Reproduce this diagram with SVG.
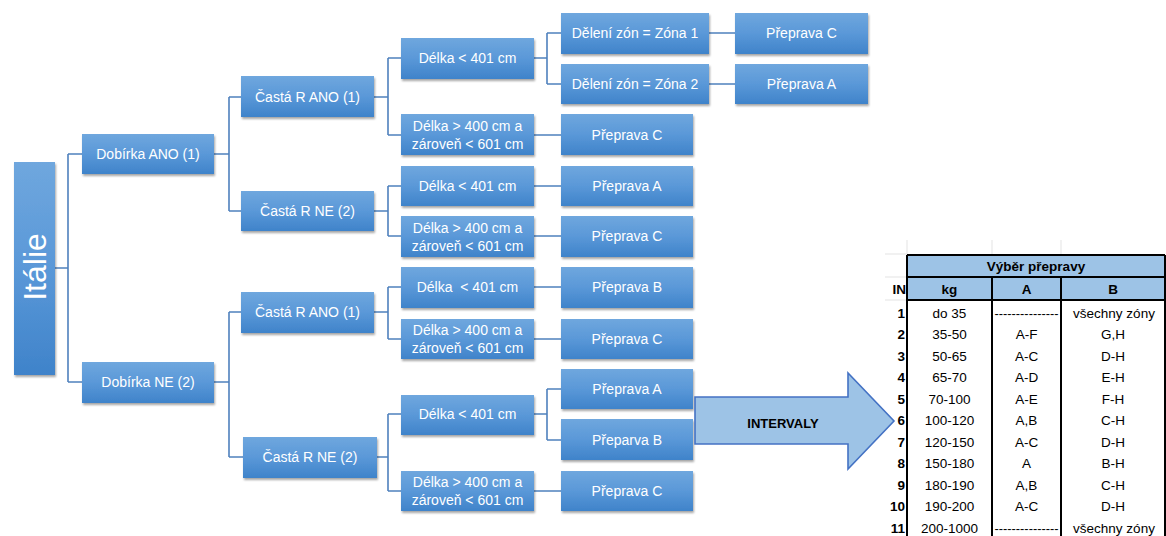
<svg xmlns="http://www.w3.org/2000/svg" width="1166" height="536" viewBox="0 0 1166 536">
<defs>
<linearGradient id="g" x1="0" y1="0" x2="0" y2="1">
<stop offset="0" stop-color="#6FA7DE"/>
<stop offset="0.5" stop-color="#5A98D8"/>
<stop offset="1" stop-color="#3F83CA"/>
</linearGradient>
<filter id="sh" x="-10%" y="-10%" width="125%" height="140%">
<feDropShadow dx="1" dy="2" stdDeviation="1.3" flood-color="#000" flood-opacity="0.35"/>
</filter>
</defs>
<style>
.b{fill:url(#g);filter:url(#sh)}
.t{font-family:"Liberation Sans",Arial,sans-serif;font-size:14px;fill:#fff;text-anchor:middle;dominant-baseline:central}
.c{fill:none;stroke:#4F81BD;stroke-width:1.6}
.tt{font-family:"Liberation Sans",Arial,sans-serif;font-size:13.5px;fill:#000;text-anchor:middle;dominant-baseline:central}
.tb{font-weight:bold}
.n{font-family:"Liberation Sans",Arial,sans-serif;font-size:13.5px;font-weight:bold;fill:#000;text-anchor:end;dominant-baseline:central}
.bk{stroke:#000;stroke-width:2;fill:none}
.gr{stroke:#E3E3E3;stroke-width:1}
</style>
<rect width="1166" height="536" fill="#fff"/>

<g id="connectors">
<path class="c" d="M55,268H68M68,154V382M68,154H82M68,382H82"/>
<path class="c" d="M214,154H229M229,97V211M229,97H241M229,211H241"/>
<path class="c" d="M214,382H229M229,312V457M229,312H241M229,457H243"/>
<path class="c" d="M374,97H388M388,58V135M388,58H401M388,135H401"/>
<path class="c" d="M374,211H388M388,186V236M388,186H401M388,236H401"/>
<path class="c" d="M374,312H388M388,287V339M388,287H401M388,339H401"/>
<path class="c" d="M377,457H388M388,414V491M388,414H401M388,491H401"/>
<path class="c" d="M534,58H547M547,33V84M547,33H561M547,84H561"/>
<path class="c" d="M709,33H735M709,84H735"/>
<path class="c" d="M534,135H561M534,186H561M534,236H561M534,287H561M534,339H561M534,491H561"/>
<path class="c" d="M534,414H547M547,389V440M547,389H561M547,440H561"/>
</g>

<g id="italie"><rect class="b" x="14" y="162" width="41" height="213"/><text class="t" transform="translate(35,267) rotate(-90)" style="font-size:32px">Itálie</text></g>
<g id="dob_ano"><rect class="b" x="82" y="134" width="132" height="40"/><text class="t" x="148" y="154">Dobírka ANO (1)</text></g>
<g id="dob_ne"><rect class="b" x="82" y="362" width="132" height="41"/><text class="t" x="148" y="382">Dobírka NE (2)</text></g>
<g id="casta_ano1"><rect class="b" x="241" y="76" width="133" height="41"/><text class="t" x="307.5" y="97">Častá R ANO (1)</text></g>
<g id="casta_ne1"><rect class="b" x="241" y="191" width="133" height="40"/><text class="t" x="307.5" y="211">Častá R NE (2)</text></g>
<g id="casta_ano2"><rect class="b" x="241" y="292" width="133" height="41"/><text class="t" x="307.5" y="312">Častá R ANO (1)</text></g>
<g id="casta_ne2"><rect class="b" x="243" y="437" width="134" height="41"/><text class="t" x="310" y="457">Častá R NE (2)</text></g>

<g id="d1"><rect class="b" x="401" y="38" width="133" height="41"/><text class="t" x="467.5" y="58">Délka &lt; 401 cm</text></g>
<g id="d2"><rect class="b" x="401" y="114" width="133" height="41"/><text class="t" x="467.5" y="126">Délka &gt; 400 cm a</text><text class="t" x="467.5" y="144">zároveň &lt; 601 cm</text></g>
<g id="z1"><rect class="b" x="561" y="13" width="148" height="41"/><text class="t" x="635" y="33">Dělení zón = Zóna 1</text></g>
<g id="z2"><rect class="b" x="561" y="64" width="148" height="40"/><text class="t" x="635" y="84">Dělení zón = Zóna 2</text></g>
<g id="p1"><rect class="b" x="735" y="13" width="133" height="41"/><text class="t" x="801.5" y="33">Přeprava C</text></g>
<g id="p2"><rect class="b" x="735" y="64" width="133" height="40"/><text class="t" x="801.5" y="84">Přeprava A</text></g>
<g id="p3"><rect class="b" x="561" y="114" width="132" height="41"/><text class="t" x="627" y="135">Přeprava C</text></g>
<g id="d3"><rect class="b" x="401" y="166" width="133" height="40"/><text class="t" x="467.5" y="186">Délka &lt; 401 cm</text></g>
<g id="p4"><rect class="b" x="561" y="166" width="132" height="40"/><text class="t" x="627" y="186">Přeprava A</text></g>
<g id="d4"><rect class="b" x="401" y="216" width="133" height="41"/><text class="t" x="467.5" y="228">Délka &gt; 400 cm a</text><text class="t" x="467.5" y="246">zároveň &lt; 601 cm</text></g>
<g id="p5"><rect class="b" x="561" y="216" width="132" height="41"/><text class="t" x="627" y="236">Přeprava C</text></g>
<g id="d5"><rect class="b" x="401" y="267" width="133" height="41"/><text class="t" x="467.5" y="287" xml:space="preserve">Délka  &lt; 401 cm</text></g>
<g id="p6"><rect class="b" x="561" y="267" width="132" height="41"/><text class="t" x="627" y="287">Přeprava B</text></g>
<g id="d6"><rect class="b" x="401" y="319" width="133" height="40"/><text class="t" x="467.5" y="330">Délka &gt; 400 cm a</text><text class="t" x="467.5" y="348">zároveň &lt; 601 cm</text></g>
<g id="p7"><rect class="b" x="561" y="319" width="132" height="40"/><text class="t" x="627" y="339">Přeprava C</text></g>
<g id="d7"><rect class="b" x="401" y="395" width="133" height="40"/><text class="t" x="467.5" y="414">Délka &lt; 401 cm</text></g>
<g id="p8"><rect class="b" x="561" y="369" width="132" height="40"/><text class="t" x="627" y="389">Přeprava A</text></g>
<g id="p9"><rect class="b" x="561" y="419" width="132" height="41"/><text class="t" x="627" y="440">Přeparva B</text></g>
<g id="d8"><rect class="b" x="401" y="471" width="133" height="40"/><text class="t" x="467.5" y="482">Délka &gt; 400 cm a</text><text class="t" x="467.5" y="500">zároveň &lt; 601 cm</text></g>
<g id="p10"><rect class="b" x="561" y="471" width="132" height="40"/><text class="t" x="627" y="491">Přeprava C</text></g>

<g id="arrow">
<polygon points="695,397 848,397 848,373 894,421 848,469 848,444 695,444" fill="#9DC3E6" stroke="#4472C4" stroke-width="1.6"/>
<text x="783" y="423" style="font-family:'Liberation Sans',Arial,sans-serif;font-size:13px;font-weight:bold;fill:#000;text-anchor:middle;dominant-baseline:central">INTERVALY</text>
</g>

<g id="table">
<g class="gr">
<line x1="907" y1="240" x2="907" y2="255"/><line x1="992" y1="240" x2="992" y2="255"/><line x1="1061" y1="240" x2="1061" y2="255"/>
<line x1="885" y1="254" x2="907" y2="254"/><line x1="885" y1="277" x2="907" y2="277"/><line x1="885" y1="300" x2="907" y2="300"/>
</g>
<rect x="907" y="255" width="258" height="45" fill="#9DC3E6"/>
<path class="bk" d="M907,255H1165M907,277H1165M907,300H1165M907,255V536M992,277V536M1061,277V536M1165,255V536"/>
<text class="tt tb" x="1036" y="266">Výběr přepravy</text>
<text class="tt tb" x="949.5" y="289">kg</text>
<text class="tt tb" x="1026.5" y="289">A</text>
<text class="tt tb" x="1113" y="289">B</text>
<text class="n" x="906" y="289">IN</text>

<text class="n" x="905" y="313">1</text><text class="tt" x="949.5" y="313">do 35</text><text class="tt" x="1026.5" y="313" textLength="64" lengthAdjust="spacingAndGlyphs">---------------</text><text class="tt" x="1114" y="313">všechny zóny</text>
<text class="n" x="905" y="334.5">2</text><text class="tt" x="949.5" y="334.5">35-50</text><text class="tt" x="1026.5" y="334.5">A-F</text><text class="tt" x="1113" y="334.5">G,H</text>
<text class="n" x="905" y="356">3</text><text class="tt" x="949.5" y="356">50-65</text><text class="tt" x="1026.5" y="356">A-C</text><text class="tt" x="1113" y="356">D-H</text>
<text class="n" x="905" y="377.5">4</text><text class="tt" x="949.5" y="377.5">65-70</text><text class="tt" x="1026.5" y="377.5">A-D</text><text class="tt" x="1113" y="377.5">E-H</text>
<text class="n" x="905" y="399">5</text><text class="tt" x="949.5" y="399">70-100</text><text class="tt" x="1026.5" y="399">A-E</text><text class="tt" x="1113" y="399">F-H</text>
<text class="n" x="905" y="420.5">6</text><text class="tt" x="949.5" y="420.5">100-120</text><text class="tt" x="1026.5" y="420.5">A,B</text><text class="tt" x="1113" y="420.5">C-H</text>
<text class="n" x="905" y="442">7</text><text class="tt" x="949.5" y="442">120-150</text><text class="tt" x="1026.5" y="442">A-C</text><text class="tt" x="1113" y="442">D-H</text>
<text class="n" x="905" y="463.5">8</text><text class="tt" x="949.5" y="463.5">150-180</text><text class="tt" x="1026.5" y="463.5">A</text><text class="tt" x="1113" y="463.5">B-H</text>
<text class="n" x="905" y="485">9</text><text class="tt" x="949.5" y="485">180-190</text><text class="tt" x="1026.5" y="485">A,B</text><text class="tt" x="1113" y="485">C-H</text>
<text class="n" x="905" y="506.5">10</text><text class="tt" x="949.5" y="506.5">190-200</text><text class="tt" x="1026.5" y="506.5">A-C</text><text class="tt" x="1113" y="506.5">D-H</text>
<text class="n" x="905" y="528">11</text><text class="tt" x="949.5" y="528">200-1000</text><text class="tt" x="1026.5" y="528" textLength="64" lengthAdjust="spacingAndGlyphs">---------------</text><text class="tt" x="1114" y="528">všechny zóny</text>
</g>
</svg>
